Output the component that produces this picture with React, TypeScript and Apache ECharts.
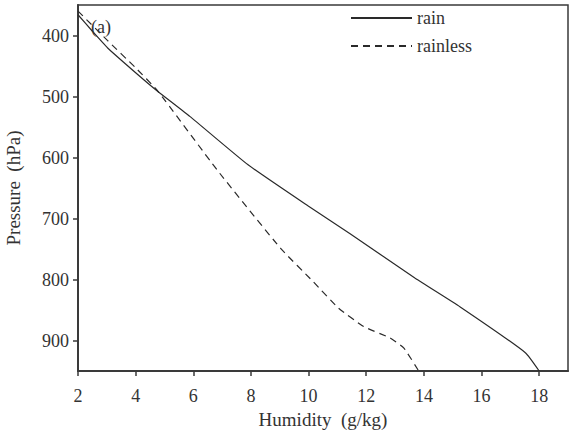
import React, { useEffect, useRef } from "react";
import * as echarts from "echarts";

const rainHumidity = [2.0, 2.5, 3.02, 4.0, 4.75, 5.89, 7.9, 10.0, 11.44, 13.7, 15.26, 17.52, 18.0];
const rainPressure = [366, 393, 420, 461, 491, 533, 612, 680, 725, 798, 845, 920, 950];

const rainlessHumidity = [2.0, 3.02, 4.0, 4.75, 6.82, 9.03, 10.17, 11.04, 11.91, 12.83, 13.3, 13.82];
const rainlessPressure = [360, 408, 453, 490, 620, 749, 804, 847, 877, 896, 912, 950];

const xTicks = [2, 4, 6, 8, 10, 12, 14, 16, 18];
const yTicks = [400, 500, 600, 700, 800, 900];

const FONT = "Liberation Serif";
const TEXT = "#333";
const AXIS = "#3a3a3a";

export default function App() {
  const ref = useRef<HTMLDivElement>(null);
  useEffect(() => {
    if (!ref.current) return;
    const chart = echarts.init(ref.current, undefined, { renderer: "svg" });
    const rain = rainHumidity.map((x, i) => [x, rainPressure[i]]);
    const rainless = rainlessHumidity.map((x, i) => [x, rainlessPressure[i]]);
    chart.setOption({
      animation: false,
      backgroundColor: "#fff",
      title: {
        text: "(a)",
        left: 91,
        top: 18,
        padding: 0,
        textStyle: { fontFamily: FONT, fontSize: 18, fontWeight: "normal", color: TEXT },
      },
      legend: {
        orient: "vertical",
        left: 350,
        top: 9,
        padding: 0,
        itemWidth: 61,
        itemHeight: 14,
        itemGap: 10,
        itemStyle: { color: "rgba(0,0,0,0)", borderWidth: 0, opacity: 0 },
        textStyle: { fontFamily: FONT, fontSize: 18, color: TEXT, padding: [0, 0, 0, 0] },
        data: ["rain", "rainless"],
      },
      grid: {
        left: 78,
        top: 5,
        right: 1,
        bottom: 63,
        show: true,
        borderColor: AXIS,
        borderWidth: 1.5,
        containLabel: false,
        outerBoundsMode: "none",
      },
      xAxis: {
        type: "value",
        min: 2,
        max: 19,
        name: "Humidity  (g/kg)",
        nameLocation: "middle",
        nameGap: 35,
        nameTextStyle: { fontFamily: FONT, fontSize: 19, color: TEXT },
        splitLine: { show: false },
        axisLine: { lineStyle: { color: AXIS, width: 2 } },
        axisTick: { length: 5, lineStyle: { color: AXIS, width: 1.5 }, customValues: xTicks },
        axisLabel: { fontFamily: FONT, fontSize: 18, color: TEXT, margin: 16, customValues: xTicks },
      },
      yAxis: {
        type: "value",
        inverse: true,
        min: 350,
        max: 950,
        name: "Pressure  (hPa)",
        nameLocation: "middle",
        nameGap: 55,
        nameTextStyle: { fontFamily: FONT, fontSize: 19, color: TEXT },
        splitLine: { show: false },
        axisLine: { lineStyle: { color: AXIS, width: 2 } },
        axisTick: { length: 5, lineStyle: { color: AXIS, width: 1.5 }, customValues: yTicks },
        axisLabel: { fontFamily: FONT, fontSize: 18, color: TEXT, margin: 9, customValues: yTicks },
      },
      series: [
        {
          name: "rain",
          type: "line",
          data: rain,
          symbol: "none",
          smooth: 0.15,
          lineStyle: { color: "#2a2a2a", width: 1.2, type: "solid" },
          itemStyle: { color: "#2a2a2a" },
        },
        {
          name: "rainless",
          type: "line",
          data: rainless,
          symbol: "none",
          smooth: 0.15,
          lineStyle: { color: "#2a2a2a", width: 1.2, type: [7, 5] },
          itemStyle: { color: "#2a2a2a" },
        },
      ],
    });
    return () => chart.dispose();
  }, []);
  return <div ref={ref} style={{ width: 569, height: 434, position: "absolute", left: 0, top: 0 }} />;
}
